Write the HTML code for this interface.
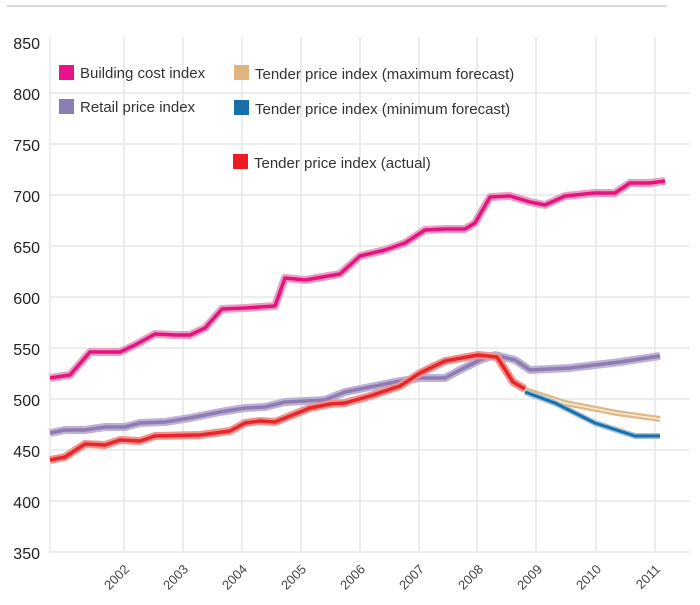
<!DOCTYPE html>
<html><head><style>
body{margin:0;background:#fff;}
svg{display:block;font-family:"Liberation Sans",sans-serif;}
</style></head><body>
<svg width="700" height="605" viewBox="0 0 700 605">
<line x1="7" y1="6" x2="667" y2="6" stroke="#ccc" stroke-width="1.5"/>
<g stroke="#e6e6e6" stroke-width="1.5">
<line x1="50" y1="37" x2="50" y2="553"/>
<line x1="124" y1="37" x2="124" y2="553"/><line x1="183" y1="37" x2="183" y2="553"/>
<line x1="242" y1="37" x2="242" y2="553"/><line x1="301" y1="37" x2="301" y2="553"/>
<line x1="360" y1="37" x2="360" y2="553"/><line x1="419" y1="37" x2="419" y2="553"/>
<line x1="477" y1="37" x2="477" y2="553"/><line x1="536" y1="37" x2="536" y2="553"/>
<line x1="596" y1="37" x2="596" y2="553"/><line x1="655" y1="37" x2="655" y2="553"/>
<line x1="50" y1="93" x2="690" y2="93"/><line x1="50" y1="144" x2="690" y2="144"/>
<line x1="50" y1="195" x2="690" y2="195"/><line x1="50" y1="246" x2="690" y2="246"/>
<line x1="50" y1="297" x2="690" y2="297"/><line x1="50" y1="348" x2="690" y2="348"/>
<line x1="50" y1="399" x2="690" y2="399"/><line x1="50" y1="450" x2="690" y2="450"/>
<line x1="50" y1="501" x2="690" y2="501"/><line x1="50" y1="552" x2="690" y2="552"/>
</g>
<g font-size="16" fill="#222" text-anchor="end">
<text x="40" y="49">850</text><text x="40" y="100">800</text><text x="40" y="151">750</text>
<text x="40" y="202">700</text><text x="40" y="253">650</text><text x="40" y="304">600</text>
<text x="40" y="355">550</text><text x="40" y="406">500</text><text x="40" y="457">450</text>
<text x="40" y="508">400</text><text x="40" y="559">350</text>
</g>
<g font-size="13" fill="#444" text-anchor="end">
<text transform="translate(130,570) rotate(-45)">2002</text>
<text transform="translate(189,570) rotate(-45)">2003</text>
<text transform="translate(248,570) rotate(-45)">2004</text>
<text transform="translate(307,570) rotate(-45)">2005</text>
<text transform="translate(366,570) rotate(-45)">2006</text>
<text transform="translate(425,570) rotate(-45)">2007</text>
<text transform="translate(484,570) rotate(-45)">2008</text>
<text transform="translate(543,570) rotate(-45)">2009</text>
<text transform="translate(602,570) rotate(-45)">2010</text>
<text transform="translate(661,570) rotate(-45)">2011</text>
</g>
<g fill="none" stroke-linejoin="round" stroke-linecap="butt">
<polyline stroke="#e8a0c4" stroke-width="8" points="50,378 70,375 90,352 120,352 135,345 155,334 175,335 190,335 205,328 222,309 245,308 275,306 285,278 305,280 340,274 360,256 385,250 405,243 425,230 445,229 465,229 475,223 490,197 510,196 530,202 545,205 565,196 595,193 615,193 630,183 650,183 665,181"/>
<polyline stroke="#e8127f" stroke-width="3.5" points="50,378 70,375 90,352 120,352 135,345 155,334 175,335 190,335 205,328 222,309 245,308 275,306 285,278 305,280 340,274 360,256 385,250 405,243 425,230 445,229 465,229 475,223 490,197 510,196 530,202 545,205 565,196 595,193 615,193 630,183 650,183 665,181"/>
<polyline stroke="#bcb1d6" stroke-width="8" points="50,433 65,430 85,430 105,427 125,427 140,423 165,422 190,418 220,412 245,408 265,407 285,402 325,400 345,392 370,387 395,382 420,378 445,378 460,370 480,360 495,355 515,360 530,370 570,368 620,362 660,356"/>
<polyline stroke="#8e7cb3" stroke-width="3.5" points="50,433 65,430 85,430 105,427 125,427 140,423 165,422 190,418 220,412 245,408 265,407 285,402 325,400 345,392 370,387 395,382 420,378 445,378 460,370 480,360 495,355 515,360 530,370 570,368 620,362 660,356"/>
<polyline stroke="#e0b883" stroke-width="6" points="525,390 565,403 617,413 660,419"/>
<polyline stroke="#f7ecdc" stroke-width="1.5" points="525,390 565,403 617,413 660,419"/>
<polyline stroke="#9fc2dc" stroke-width="6" points="525,392 555,403 595,423 635,436 660,436"/>
<polyline stroke="#1a6fa8" stroke-width="3" points="525,392 555,403 595,423 635,436 660,436"/>
<polyline stroke="#f2948b" stroke-width="8" points="50,460 65,457 85,444 105,445 120,440 140,441 155,436 200,435 215,433 230,431 245,423 260,421 275,422 290,416 310,408 330,404 345,403 370,396 400,386 420,373 445,361 478,355 497,357 513,382 525,389"/>
<polyline stroke="#e8242c" stroke-width="3.5" points="50,460 65,457 85,444 105,445 120,440 140,441 155,436 200,435 215,433 230,431 245,423 260,421 275,422 290,416 310,408 330,404 345,403 370,396 400,386 420,373 445,361 478,355 497,357 513,382 525,389"/>
</g>
<g font-size="15" fill="#333">
<rect x="59" y="65" width="15" height="15" fill="#e8128a"/><text x="80" y="78">Building cost index</text>
<rect x="59" y="99" width="15" height="15" fill="#8a7cb4"/><text x="80" y="112">Retail price index</text>
<rect x="234" y="65" width="15" height="15" fill="#e0b47e"/><text x="255" y="79">Tender price index (maximum forecast)</text>
<rect x="234" y="100" width="15" height="15" fill="#1a6fa8"/><text x="255" y="114">Tender price index (minimum forecast)</text>
<rect x="233" y="154" width="15" height="15" fill="#ed1c24"/><text x="254" y="168">Tender price index (actual)</text>
</g>
</svg>
</body></html>
